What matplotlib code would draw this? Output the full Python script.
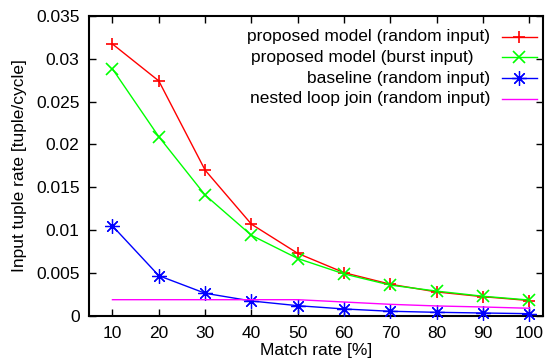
import matplotlib
matplotlib.use("Agg")
import matplotlib.pyplot as plt
from matplotlib.lines import Line2D

plt.rcParams['font.family'] = ['Liberation Sans', 'DejaVu Sans']

match_rate = [10, 20, 30, 40, 50, 60, 70, 80, 90, 100]
proposed_random = [0.0317, 0.0274, 0.0170, 0.0107, 0.0073, 0.00505, 0.0037, 0.0028, 0.00225, 0.0018]
proposed_burst = [0.0288, 0.0209, 0.0141, 0.0094, 0.0067, 0.0049, 0.0036, 0.0029, 0.0023, 0.00186]
baseline_random = [0.0105, 0.0047, 0.00265, 0.00175, 0.0012, 0.00082, 0.00055, 0.00043, 0.00035, 0.00027]
nested_loop = [0.0019, 0.0019, 0.0019, 0.0019, 0.0019, 0.00163, 0.00136, 0.00117, 0.00105, 0.0009]

labels = ["proposed model (random input)", "proposed model (burst input)",
          "baseline (random input)", "nested loop join (random input)"]
xticks = [10, 20, 30, 40, 50, 60, 70, 80, 90, 100]
yticks = [0, 0.005, 0.01, 0.015, 0.02, 0.025, 0.03, 0.035]
yticklabels = ["0", "0.005", "0.01", "0.015", "0.02", "0.025", "0.03", "0.035"]

W, H = 552, 360
fig = plt.figure(figsize=(W / 100, H / 100), dpi=100)
ax = fig.add_axes([89.3 / W, 1 - 316 / H, (543.3 - 89.3) / W, (316 - 15.7) / H])

fs = 12.5
star = (8, 2, 0)
styles = [
    dict(color='#ff0000', marker='+', ms=9, mew=1.2),
    dict(color='#00ff00', marker='x', ms=8, mew=1.2),
    dict(color='#0000ff', marker=star, ms=10.5, mew=0.9),
    dict(color='#ff00ff', marker=None, ms=0, mew=0),
]
series = [proposed_random, proposed_burst, baseline_random, nested_loop]
for s, st in zip(series, styles):
    ax.plot(match_rate, s, color=st['color'], lw=1.0, marker=st['marker'],
            ms=st['ms'], mew=st['mew'], clip_on=False, zorder=3)

ax.set_xlim(5, 103)
ax.set_ylim(0, 0.035)
ax.set_xticks(xticks)
ax.set_xticklabels([str(v) for v in xticks], fontsize=fs)
ax.set_yticks(yticks)
ax.set_yticklabels(yticklabels, fontsize=fs)
ax.tick_params(direction='in', length=5, width=1.0, top=True, right=True, pad=7)
for sp in ax.spines.values():
    sp.set_linewidth(1.5)

fig.text(20 / W, 1 - 166 / H, "Input tuple rate [tuple/cycle]", rotation=90,
         ha='center', va='center', fontsize=fs)
fig.text(316 / W, 1 - 351 / H, "Match rate [%]", ha='center', va='center', fontsize=fs)

# manual legend (right-aligned text, sample to the right)
rows_y = [36.7, 57.3, 78.3, 99.0]
text_right = [490, 473.3, 490, 490]
for lab, st, yy, xr in zip(labels, styles, rows_y, text_right):
    fig.text(xr / W, 1 - yy / H, lab, ha='right', va='center', fontsize=fs)
    fig.add_artist(Line2D([501.7 / W, 536.7 / W], [1 - yy / H, 1 - yy / H],
                          transform=fig.transFigure, color=st['color'], lw=1.0))
    if st['marker'] is not None:
        fig.add_artist(Line2D([519.3 / W], [1 - yy / H], transform=fig.transFigure,
                              color=st['color'], marker=st['marker'], ms=st['ms'],
                              mew=st['mew'], lw=0))

fig.savefig("out.png", dpi=100)
